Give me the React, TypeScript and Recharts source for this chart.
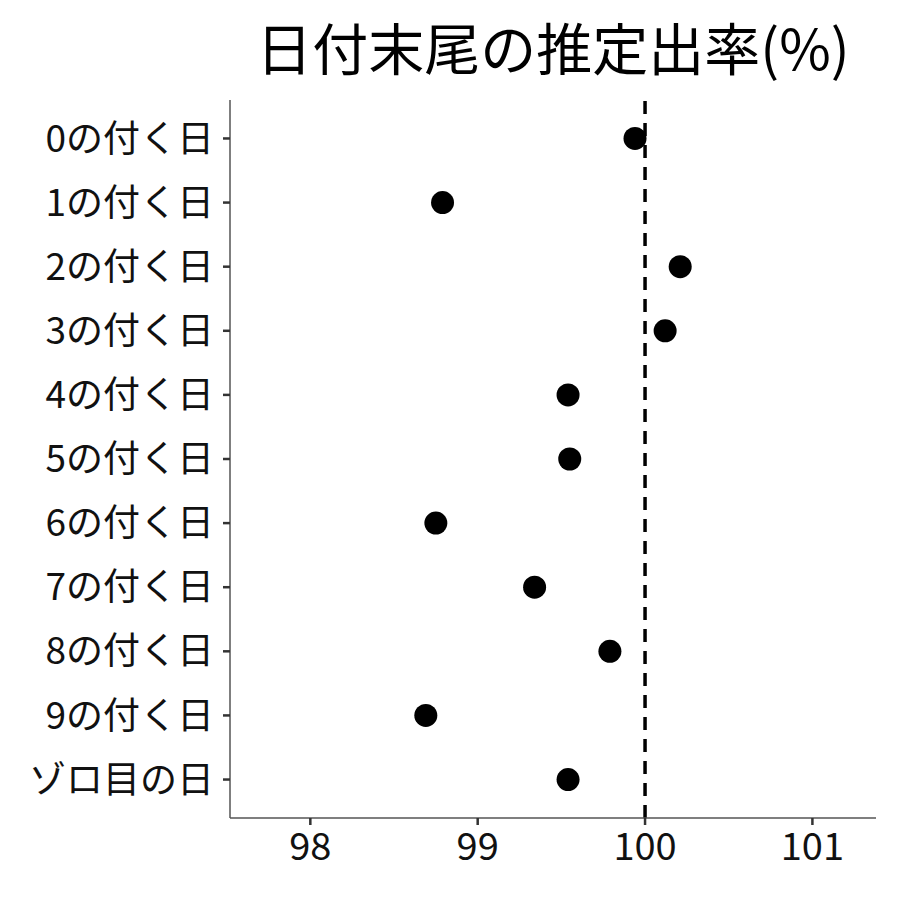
import { ScatterChart, Scatter, XAxis, YAxis, ReferenceLine } from 'recharts'

const dayLabels = [
  '0の付く日',
  '1の付く日',
  '2の付く日',
  '3の付く日',
  '4の付く日',
  '5の付く日',
  '6の付く日',
  '7の付く日',
  '8の付く日',
  '9の付く日',
  'ゾロ目の日',
]
const rates = [99.94, 98.79, 100.21, 100.12, 99.54, 99.55, 98.75, 99.34, 99.79, 98.69, 99.54]
const xTicks = [98, 99, 100, 101]

const font = '"Noto Sans CJK JP", "Noto Sans", sans-serif'

const Dot = (props: any) => <circle cx={props.cx} cy={props.cy} r={11.5} fill="#000" />

export default function App() {
  const data = rates.map((rate, i) => ({ rate, pos: i + 1 }))
  const yTicks = dayLabels.map((_, i) => i + 1)

  return (
    <div style={{ position: 'absolute', left: 0, top: 0, width: 900, height: 900, background: '#fff' }}>
      <div
        style={{
          position: 'absolute',
          left: 230,
          width: 646,
          top: 11,
          textAlign: 'center',
          fontFamily: font,
          fontSize: 56,
          lineHeight: '70px',
          color: '#000',
        }}
      >
        日付末尾の推定出率(%)
      </div>
      <ScatterChart width={900} height={900} margin={{ top: 100, right: 24, bottom: 0, left: 0 }}>
        <XAxis
          type="number"
          dataKey="rate"
          domain={[97.52, 101.38]}
          ticks={xTicks}
          allowDataOverflow
          height={82}
          tickSize={7}
          tickMargin={8}
          axisLine={{ stroke: '#555', strokeWidth: 1.5 }}
          tickLine={{ stroke: '#333', strokeWidth: 2.5 }}
          tick={{ fill: '#111', fontSize: 38, fontFamily: font }}
        />
        <YAxis
          type="number"
          dataKey="pos"
          domain={[0.4, 11.6]}
          ticks={yTicks}
          reversed
          allowDataOverflow
          interval={0}
          width={230}
          tickSize={7}
          tickMargin={9}
          tickFormatter={(v: number) => dayLabels[v - 1]}
          axisLine={{ stroke: '#555', strokeWidth: 1.5 }}
          tickLine={{ stroke: '#333', strokeWidth: 2.5 }}
          tick={{ fill: '#111', fontSize: 37, fontFamily: font }}
        />
        <ReferenceLine x={100} stroke="#000" strokeWidth={3.5} strokeDasharray="13 9" />
        <Scatter data={data} shape={Dot} isAnimationActive={false} />
      </ScatterChart>
    </div>
  )
}
